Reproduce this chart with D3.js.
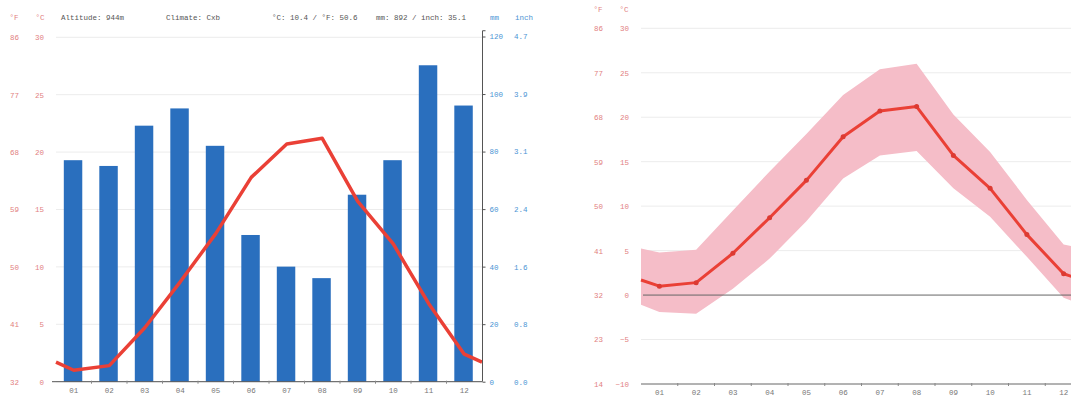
<!DOCTYPE html>
<html>
<head>
<meta charset="utf-8">
<script src="https://cdn.jsdelivr.net/npm/d3@7"></script>
<style>
  body { margin: 0; background: #fff; }
  text { font-family: "Liberation Mono", "DejaVu Sans Mono", monospace; }
</style>
</head>
<body>
<div id="chart-area"></div>
<script>
// ---- data ----
var months = ["01", "02", "03", "04", "05", "06", "07", "08", "09", "10", "11", "12"];
var precip = [77, 75, 89, 95, 82, 51, 40, 36, 65, 77, 110, 96];          // mm
var tempMean = [1.0, 1.4, 4.7, 8.7, 12.9, 17.8, 20.7, 21.2, 15.7, 12.0, 6.8, 2.4];
var tempMax = [4.8, 5.1, 9.5, 13.9, 18.1, 22.5, 25.4, 26.0, 20.3, 16.1, 10.7, 5.7];
var tempMin = [-1.9, -2.1, 0.7, 4.1, 8.3, 13.1, 15.7, 16.2, 12.0, 8.8, 4.3, -0.3];

var cTicksLeft = [0, 5, 10, 15, 20, 25, 30];
var fLabelsLeft = ["32", "41", "50", "59", "68", "77", "86"];
var mmTicks = [0, 20, 40, 60, 80, 100, 120];
var inchLabels = ["0.0", "0.8", "1.6", "2.4", "3.1", "3.9", "4.7"];
var cTicksRight = [-10, -5, 0, 5, 10, 15, 20, 25, 30];
var fLabelsRight = ["14", "23", "32", "41", "50", "59", "68", "77", "86"];

var headerLeft = ["Altitude: 944m", "Climate: Cxb", "°C: 10.4 / °F: 50.6", "mm: 892 / inch: 35.1"];

var tempColor = "#e2817f";
var precColor = "#4b94d4";
var labelFont = "7.5px";

var svg = d3.select("#chart-area").append("svg")
    .attr("width", 1071)
    .attr("height", 398);

// ---------- left chart: climate graph ----------
var x1 = d3.scaleBand().domain(months).range([56, 482]);
var yT1 = d3.scaleLinear().domain([0, 30]).range([381.7, 37.3]);
var yP = d3.scaleLinear().domain([0, 120]).range([381.7, 36.5]);

var left = svg.append("g").attr("class", "left-chart");

// gridlines
left.selectAll(".grid")
    .data(cTicksLeft).enter()
    .append("line")
        .attr("x1", 56).attr("x2", 482)
        .attr("y1", function(d) { return yT1(d); })
        .attr("y2", function(d) { return yT1(d); })
        .attr("stroke", "#ececec")
        .attr("stroke-width", 1);

// precipitation bars
left.selectAll("rect")
    .data(precip).enter()
    .append("rect")
        .attr("x", function(d, i) { return x1(months[i]) + x1.bandwidth() * 0.22; })
        .attr("y", function(d) { return yP(d); })
        .attr("width", x1.bandwidth() * 0.52)
        .attr("height", function(d) { return yP(0) - yP(d); })
        .attr("fill", "#2a6fbe");

// temperature line (ends run to the chart edges with the Dec/Jan average)
var edge = (tempMean[0] + tempMean[11]) / 2;
var linePts = [[56, edge]];
tempMean.forEach(function(v, i) { linePts.push([x1(months[i]) + x1.bandwidth() / 2, v]); });
linePts.push([482, edge]);

left.append("path")
    .datum(linePts)
    .attr("fill", "none")
    .attr("stroke", "#ea4036")
    .attr("stroke-width", 3.5)
    .attr("stroke-linejoin", "round")
    .attr("d", d3.line()
        .x(function(d) { return d[0]; })
        .y(function(d) { return yT1(d[1]); }));

// °C axis
left.append("g")
    .attr("transform", "translate(44 0)")
    .call(d3.axisLeft(yT1).tickValues(cTicksLeft).tickSize(0).tickPadding(0))
    .call(function(g) { g.select(".domain").remove(); })
    .selectAll("text")
        .attr("fill", tempColor)
        .attr("font-size", labelFont);

// °F axis
left.append("g")
    .attr("transform", "translate(19 0)")
    .call(d3.axisLeft(yT1).tickValues(cTicksLeft).tickSize(0).tickPadding(0)
        .tickFormat(function(d, i) { return fLabelsLeft[i]; }))
    .call(function(g) { g.select(".domain").remove(); })
    .selectAll("text")
        .attr("fill", tempColor)
        .attr("font-size", labelFont);

// mm axis
var mmAxis = left.append("g")
    .attr("transform", "translate(482.5 0)")
    .call(d3.axisRight(yP).tickValues(mmTicks).tickSize(3).tickPadding(4));
mmAxis.select(".domain").attr("stroke", "#555").attr("d", "M3," + yP(122) + "H0V" + yP(0));
mmAxis.selectAll("line").attr("stroke", "#555");
mmAxis.selectAll("text").attr("fill", precColor).attr("font-size", labelFont);

// inch axis
left.append("g")
    .attr("transform", "translate(514 0)")
    .call(d3.axisRight(yP).tickValues(mmTicks).tickSize(0).tickPadding(0)
        .tickFormat(function(d, i) { return inchLabels[i]; }))
    .call(function(g) { g.select(".domain").remove(); })
    .selectAll("text")
        .attr("fill", precColor)
        .attr("font-size", labelFont);

// month axis
var xAxis1 = left.append("g")
    .attr("transform", "translate(0 " + yT1(0) + ")")
    .call(d3.axisBottom(x1).tickSize(0).tickPadding(6));
xAxis1.select(".domain").attr("stroke", "#555").attr("d", "M52,0H482");
xAxis1.selectAll("text").attr("fill", "#777").attr("font-size", labelFont);
left.selectAll(".mtick")
    .data(months.slice(1)).enter()
    .append("line")
        .attr("x1", function(d) { return x1(d); })
        .attr("x2", function(d) { return x1(d); })
        .attr("y1", yT1(0) - 1)
        .attr("y2", yT1(0) + 2)
        .attr("stroke", "#888");

// header
var hdr = left.append("g").attr("font-size", labelFont);
hdr.append("text").attr("x", 14).attr("y", 20).attr("text-anchor", "middle").attr("fill", tempColor).text("°F");
hdr.append("text").attr("x", 40).attr("y", 20).attr("text-anchor", "middle").attr("fill", tempColor).text("°C");
hdr.selectAll(".info")
    .data(headerLeft).enter()
    .append("text")
        .attr("x", function(d, i) { return [61, 166, 272, 376][i]; })
        .attr("y", 20)
        .attr("fill", "#555")
        .text(function(d) { return d; });
hdr.append("text").attr("x", 490).attr("y", 20).attr("fill", precColor).text("mm");
hdr.append("text").attr("x", 515).attr("y", 20).attr("fill", precColor).text("inch");

// ---------- right chart: temperature range ----------
var x2 = d3.scaleBand().domain(months).range([641, 1082]);
var yT2 = d3.scaleLinear().domain([-10, 30]).range([384, 28.3]);

var right = svg.append("g").attr("class", "right-chart");

right.selectAll(".grid")
    .data(cTicksRight.filter(function(d) { return d != -10 && d != 0; })).enter()
    .append("line")
        .attr("x1", 641).attr("x2", 1082)
        .attr("y1", function(d) { return yT2(d); })
        .attr("y2", function(d) { return yT2(d); })
        .attr("stroke", "#ececec")
        .attr("stroke-width", 1);

// build range points with edges at the Dec/Jan average
function withEdges(arr) {
    var e = (arr[0] + arr[11]) / 2;
    var pts = [[641, e]];
    arr.forEach(function(v, i) { pts.push([x2(months[i]) + x2.bandwidth() / 2, v]); });
    pts.push([1082, e]);
    return pts;
}
var maxPts = withEdges(tempMax);
var minPts = withEdges(tempMin);
var meanPts = withEdges(tempMean);

right.append("path")
    .datum(maxPts.map(function(d, i) { return [d[0], d[1], minPts[i][1]]; }))
    .attr("fill", "#f5bdc8")
    .attr("d", d3.area()
        .x(function(d) { return d[0]; })
        .y0(function(d) { return yT2(d[2]); })
        .y1(function(d) { return yT2(d[1]); }));

// zero line
right.append("line")
    .attr("x1", 643).attr("x2", 1082)
    .attr("y1", yT2(0)).attr("y2", yT2(0))
    .attr("stroke", "#666")
    .attr("stroke-width", 1);

right.append("path")
    .datum(meanPts)
    .attr("fill", "none")
    .attr("stroke", "#ea4036")
    .attr("stroke-width", 3)
    .attr("stroke-linejoin", "round")
    .attr("d", d3.line()
        .x(function(d) { return d[0]; })
        .y(function(d) { return yT2(d[1]); }));

right.selectAll(".dot")
    .data(tempMean).enter()
    .append("circle")
        .attr("cx", function(d, i) { return x2(months[i]) + x2.bandwidth() / 2; })
        .attr("cy", function(d) { return yT2(d); })
        .attr("r", 2.5)
        .attr("fill", "#dc3a32");

// °C axis
right.append("g")
    .attr("transform", "translate(629 0)")
    .call(d3.axisLeft(yT2).tickValues(cTicksRight).tickSize(0).tickPadding(0))
    .call(function(g) { g.select(".domain").remove(); })
    .selectAll("text")
        .attr("fill", tempColor)
        .attr("font-size", labelFont);

// °F axis
right.append("g")
    .attr("transform", "translate(603 0)")
    .call(d3.axisLeft(yT2).tickValues(cTicksRight).tickSize(0).tickPadding(0)
        .tickFormat(function(d, i) { return fLabelsRight[i]; }))
    .call(function(g) { g.select(".domain").remove(); })
    .selectAll("text")
        .attr("fill", tempColor)
        .attr("font-size", labelFont);

var xAxis2 = right.append("g")
    .attr("transform", "translate(0 " + yT2(-10) + ")")
    .call(d3.axisBottom(x2).tickSize(0).tickPadding(6));
xAxis2.select(".domain").attr("stroke", "#666").attr("d", "M641,0H1082");
xAxis2.selectAll("text").attr("fill", "#777").attr("font-size", labelFont);
right.selectAll(".mtick")
    .data(months.slice(1)).enter()
    .append("line")
        .attr("x1", function(d) { return x2(d); })
        .attr("x2", function(d) { return x2(d); })
        .attr("y1", yT2(-10) - 1)
        .attr("y2", yT2(-10) + 2)
        .attr("stroke", "#888");

right.append("text").attr("x", 598).attr("y", 12).attr("text-anchor", "middle")
    .attr("fill", tempColor).attr("font-size", labelFont).text("°F");
right.append("text").attr("x", 624).attr("y", 12).attr("text-anchor", "middle")
    .attr("fill", tempColor).attr("font-size", labelFont).text("°C");
</script>
</body>
</html>
